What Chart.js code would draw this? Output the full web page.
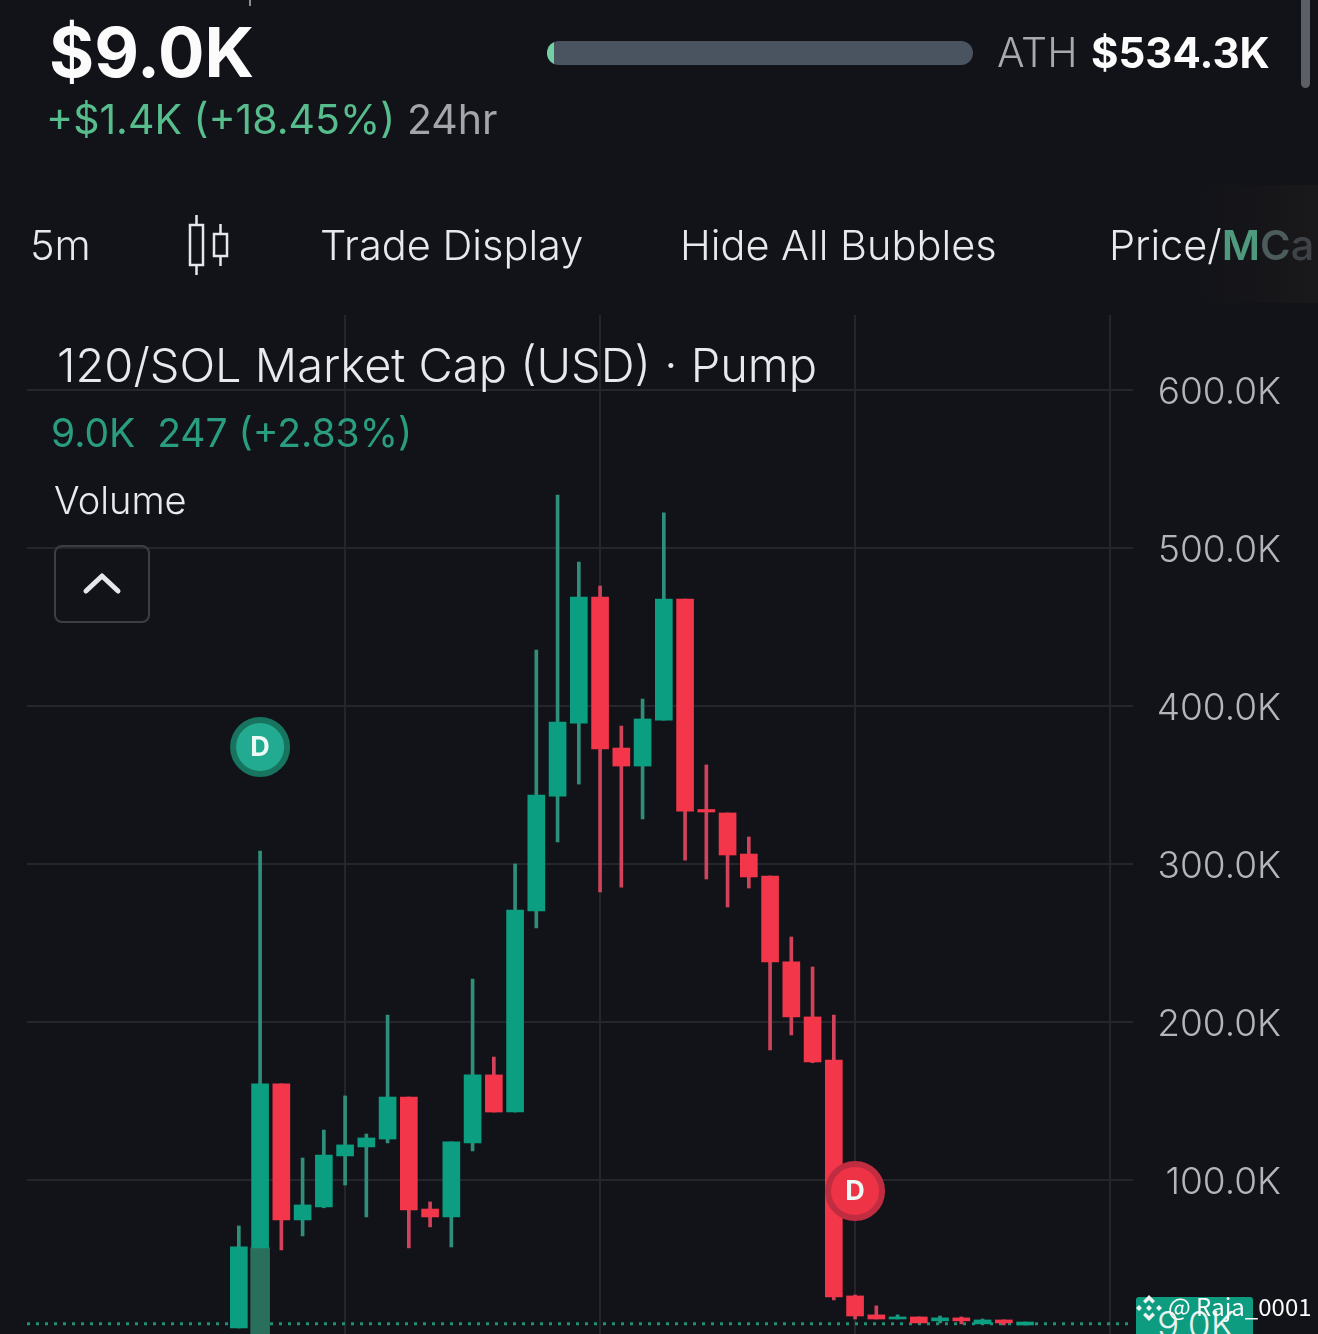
<!DOCTYPE html>
<html lang="en">
<head>
<meta charset="utf-8">
<title>120/SOL Market Cap</title>
<script src="https://cdn.jsdelivr.net/npm/chart.js@4/dist/chart.umd.min.js"></script>
<style>
  html, body { margin: 0; padding: 0; background: #121319; overflow: hidden; }
  #page { position: relative; width: 1318px; height: 1334px; overflow: hidden; font-family: Inter, sans-serif; }
  #chart { position: absolute; left: 0; top: 0; }
  .t { position: absolute; white-space: nowrap; line-height: 1; }
  .box { position: absolute; }
</style>
</head>
<body>
<div id="page">
  <canvas id="chart" width="1318" height="1334"></canvas>

  <div class="box" style="left:249px;top:0;width:2px;height:6px;background:#8a8c90"></div>
  <div class="t" id="price" style="left:49px;top:18px;font-size:69px;font-weight:700;color:#fbfbfc">$9.0K</div>
  <div class="t" style="left:46px;top:99px;font-size:41px;font-weight:400;color:#57bd8d">+$1.4K (+18.45%)</div>
  <div class="t" style="left:407px;top:99px;font-size:41px;font-weight:400;color:#a4a5a8">24hr</div>

  <div class="box" style="left:547px;top:41px;width:426px;height:24px;border-radius:12px;background:#4a5460;overflow:hidden">
    <div style="width:7px;height:24px;background:#72d0a4"></div>
  </div>
  <div class="t" style="left:997px;top:32px;font-size:41px;font-weight:300;color:#a8a9ac">ATH</div>
  <div class="t" style="left:1091px;top:32px;font-size:42px;font-weight:700;color:#fbfbfc">$534.3K</div>
  <div class="box" style="left:1301px;top:0;width:9px;height:88px;border-radius:0 0 5px 5px;background:#5c5f65"></div>

  <div class="t" style="left:30px;top:225px;font-size:41.5px;font-weight:300;color:#e8e9ec">5m</div>
  <svg class="box" style="left:180px;top:210px" width="60" height="70" fill="none" stroke="#e6e7ea" stroke-width="2.5">
    <rect x="10" y="15" width="13" height="40"/><path d="M16.5 5V15M16.5 55V65"/>
    <rect x="34" y="24" width="13" height="22"/><path d="M40.5 14V24M40.5 46V56"/>
  </svg>
  <div class="t" style="left:320px;top:225px;font-size:41.5px;font-weight:300;color:#e8e9ec">Trade Display</div>
  <div class="t" style="left:680px;top:225px;font-size:41.5px;font-weight:300;color:#e8e9ec">Hide All Bubbles</div>
  <div class="box" style="left:1190px;top:185px;width:128px;height:118px;background:linear-gradient(to right,rgba(40,36,30,0),rgba(40,36,30,.35))"></div>
  <div class="t" style="left:1109px;top:225px;font-size:41.5px;font-weight:300;color:#e8e9ec">Price/<span style="font-weight:600;color:#4f9a7e">M</span><span style="font-weight:600;color:#4b5c5a">C</span><span style="font-weight:500;color:#3f4246">a</span></div>

  <div class="t" style="left:57px;top:341px;font-size:47px;font-weight:300;color:#e8e9ec">120/SOL Market Cap (USD) · Pump</div>
  <div class="t" style="left:51px;top:413px;font-size:39px;font-weight:400;color:#2a9d80">9.0K&nbsp; 247 (+2.83%)</div>
  <div class="t" style="left:54px;top:481px;font-size:38px;font-weight:300;color:#e8e9ec">Volume</div>
  <div class="box" style="left:54px;top:545px;width:92px;height:74px;border:2.5px solid #3c3e43;border-radius:8px"></div>
  <svg class="box" style="left:80px;top:569px" width="44" height="30" fill="none" stroke="#e6e7ea" stroke-width="5" stroke-linecap="round" stroke-linejoin="round">
    <path d="M6 22L22 7L38 22"/>
  </svg>

  <div class="box" style="left:1136px;top:1297px;width:117px;height:40px;border-radius:3px 3px 0 0;background:#0e9c80"></div>
  <div class="t" style="left:1157px;top:1306px;font-size:37px;font-weight:300;color:#e8f3f0">9.0K</div>
  <svg class="box" style="left:1135px;top:1294px" width="30" height="30" fill="#eef3f1">
    <path d="M14 1L20 7L17.5 9.5L14 6L10.500 9.500L8 7ZM4 11L7 14L4 17L1 14ZM24 11L27 14L24 17L21 14ZM14 11L17 14L14 17L11 14ZM8 21L10.500 18.500L14 22L17.500 18.500L20 21L14 27Z"/>
  </svg>
  <div class="t" style="left:1168px;top:1294px;font-family:'Noto Sans CJK SC','Noto Sans',sans-serif;font-size:24px;color:#fbfbfb">@ Raja_0001</div>
</div>

<script>
  // candle values in K
  const opens = [6.3, 57.0, 160.8, 74.7, 82.9, 115.2, 120.9, 125.9, 152.5, 81.6, 76.6, 123.4, 166.5, 143.0, 270.3, 343.0, 389.2, 469.0, 373.4, 362.0, 391.1, 467.7, 334.5, 332.3, 306.3, 292.4, 238.0, 203.2, 175.9, 26.6, 14.6, 12.0, 13.3, 10.8, 12.7, 8.9, 11.4, 8.2];
  const closes = [57.6, 160.8, 74.7, 84.2, 115.8, 122.2, 126.6, 152.5, 81.0, 76.6, 124.1, 166.5, 143.0, 270.9, 343.7, 389.9, 469.0, 372.8, 362.0, 391.8, 467.7, 333.5, 332.9, 305.7, 291.8, 238.0, 203.2, 174.7, 25.9, 13.9, 12.0, 13.3, 9.5, 12.7, 10.8, 11.4, 9.5, 10.1];
  const highs = [70.9, 308.2, 160.8, 113.9, 131.6, 153.2, 129.1, 204.4, 152.5, 86.1, 124.1, 227.2, 177.8, 300.0, 435.4, 533.5, 491.1, 475.9, 387.3, 404.4, 522.2, 467.7, 362.7, 332.3, 317.1, 292.4, 253.8, 234.8, 204.4, 27.2, 20.3, 14.6, 13.3, 13.9, 13.3, 12.0, 11.4, 10.1];
  const lows = [6.3, 57.0, 55.7, 64.6, 82.4, 96.8, 76.6, 123.4, 57.0, 70.3, 57.6, 118.4, 143.0, 143.0, 259.5, 313.9, 350.6, 282.3, 285.4, 328.5, 391.1, 302.5, 290.5, 272.8, 284.8, 182.3, 191.8, 174.2, 24.1, 12.0, 12.0, 12.0, 9.5, 9.5, 8.9, 8.9, 8.2, 8.2];

  const yTicks = [100, 200, 300, 400, 500, 600];
  const xGrid = [5, 17, 29, 41];
  const lastPrice = 9.0;
  const yMin = 2.5, yMax = 647.5;
  const xMin = -9.97, xMax = 42.08;

  // dim bar under the second candle
  const volumeX = [1];
  const volumeRange = [[2.5, 57.0]];

  // the two D bubbles
  const markerX = [1, 29];
  const markerY = [374, 93];
  const markerFill = ['#22ab90', '#ef3346'];
  const markerRing = ['#17755f', '#c02c40'];

  const isUp = (i) => closes[i] >= opens[i];
  const idx = opens.map((_, i) => i);

  const markerText = {
    id: 'markerText',
    afterDatasetsDraw(chart) {
      const meta = chart.getDatasetMeta(0);
      const ctx = chart.ctx;
      ctx.save();
      ctx.font = '700 27px Inter';
      ctx.fillStyle = '#eef8f5';
      ctx.textAlign = 'center';
      ctx.textBaseline = 'middle';
      meta.data.forEach((p) => ctx.fillText('D', p.x, p.y + 1));
      ctx.restore();
    }
  };

  // no extra room for labels, the plot area has to sit exactly on the padding
  const noPadding = (s) => {
    s.paddingLeft = s.paddingRight = s.paddingTop = s.paddingBottom = 0;
  };

  new Chart(document.getElementById('chart').getContext('2d'), {
    type: 'bar',
    data: {
      datasets: [
        {
          type: 'scatter',
          data: markerX.map((x, i) => ({ x, y: markerY[i] })),
          backgroundColor: markerFill,
          borderColor: markerRing,
          borderWidth: 6,
          pointRadius: 27,
          order: 0
        },
        {
          data: idx.map((i) => ({ x: i, y: [opens[i], closes[i]] })),
          backgroundColor: idx.map((i) => isUp(i) ? '#0b9e80' : '#f4364b'),
          barThickness: 17,
          grouped: false,
          order: 2
        },
        {
          data: idx.map((i) => ({ x: i, y: [lows[i], highs[i]] })),
          backgroundColor: idx.map((i) => isUp(i) ? '#2f8f7a' : '#d0435a'),
          barThickness: 3,
          grouped: false,
          order: 3
        },
        {
          data: volumeX.map((x, i) => ({ x, y: volumeRange[i] })),
          backgroundColor: '#2a6e5c',
          barThickness: 19,
          grouped: false,
          order: 4
        },
        {
          type: 'line',
          data: [{ x: xMin, y: lastPrice }, { x: xMax, y: lastPrice }],
          borderColor: '#1f8f76',
          borderWidth: 3,
          borderDash: [3, 6],
          pointRadius: 0,
          order: 5
        }
      ]
    },
    options: {
      responsive: false,
      animation: false,
      layout: { autoPadding: false, padding: { left: 27, top: 315, right: 37, bottom: 0 } },
      plugins: { legend: { display: false }, tooltip: { enabled: false } },
      scales: {
        x: {
          type: 'linear',
          offset: false,
          min: xMin,
          max: xMax,
          border: { display: false },
          grid: { color: '#24262c', lineWidth: 2, offset: false, drawTicks: false },
          ticks: { display: false },
          afterBuildTicks: (s) => { s.ticks = xGrid.map((value) => ({ value })); },
          afterFit: (s) => { s.height = 0; noPadding(s); }
        },
        y: {
          position: 'right',
          min: yMin,
          max: yMax,
          border: { display: false },
          grid: { color: '#24262c', lineWidth: 2, drawTicks: false },
          ticks: {
            padding: 25,
            crossAlign: 'far',
            color: '#b4b5b8',
            font: { family: 'Inter', size: 37, weight: '300', lineHeight: 0.16 },
            // empty first line pushes the label down a little, Inter sits high
            callback: (v) => ['', v.toFixed(1) + 'K']
          },
          afterBuildTicks: (s) => { s.ticks = yTicks.map((value) => ({ value })); },
          afterFit: (s) => { s.width = 148; noPadding(s); }
        }
      }
    },
    plugins: [markerText]
  });
</script>
</body>
</html>
